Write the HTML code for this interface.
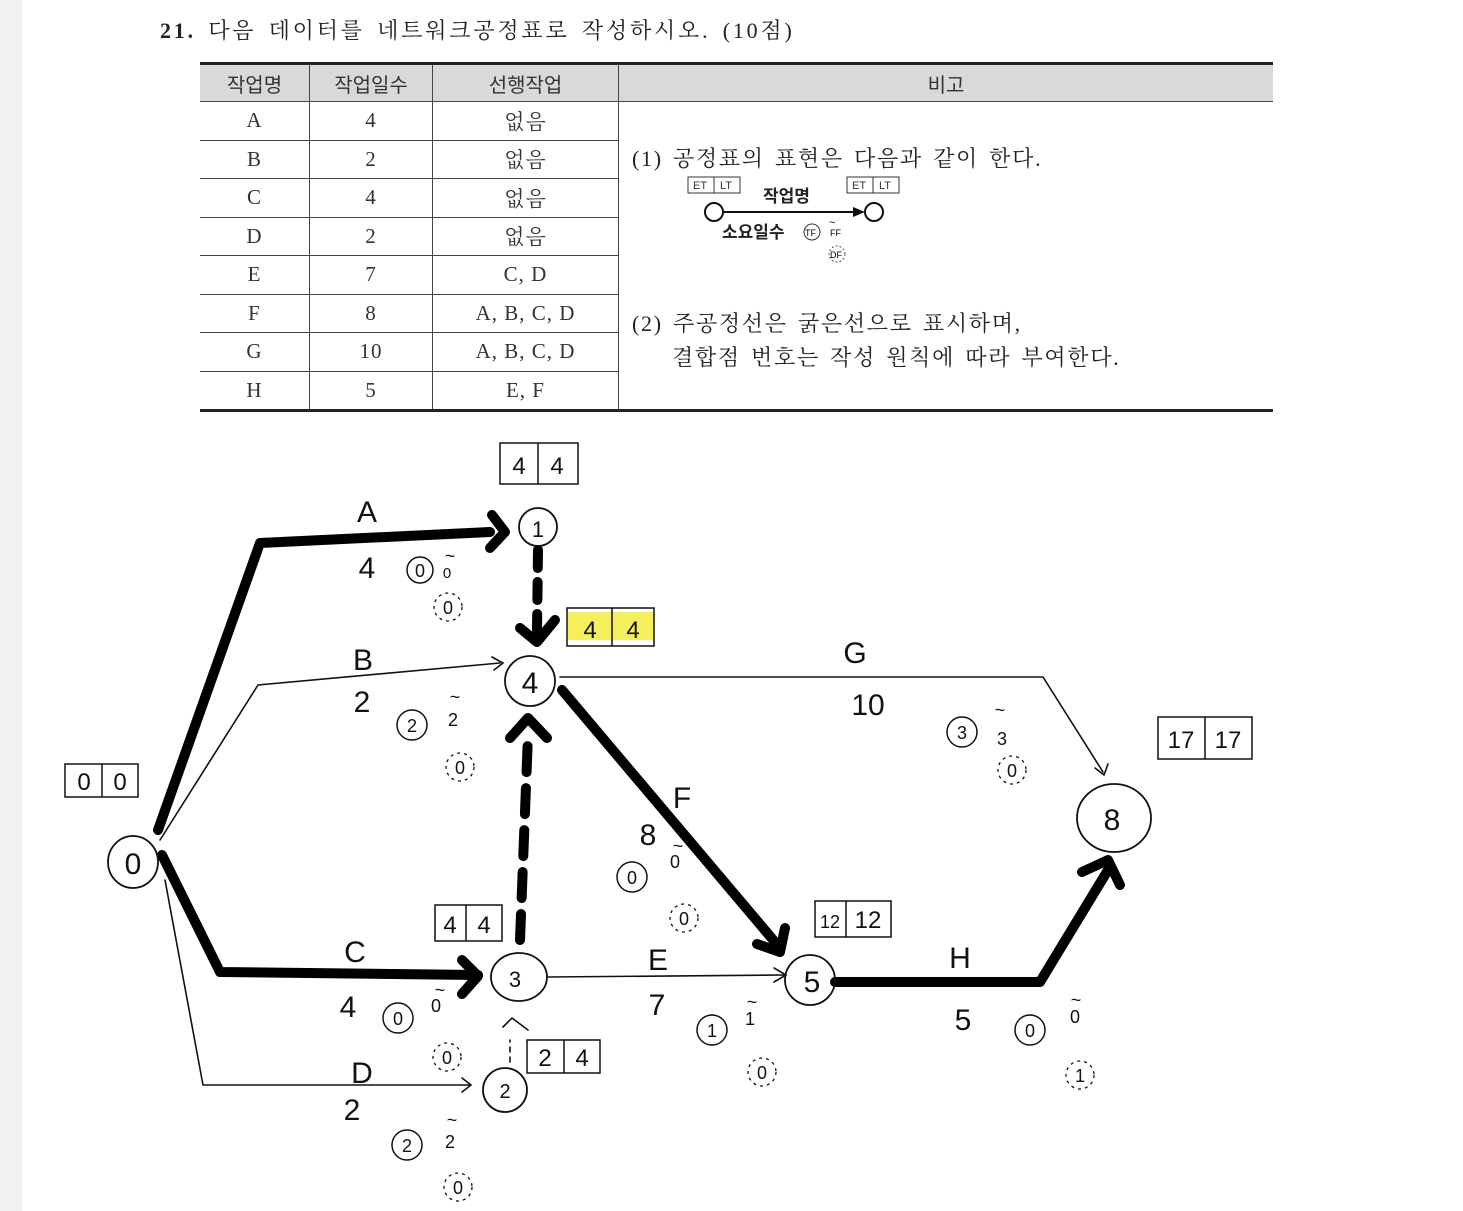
<!DOCTYPE html>
<html><head><meta charset="utf-8"><style>
html,body{margin:0;padding:0;background:#fff;}
body{width:1463px;height:1211px;position:relative;overflow:hidden;font-family:"Liberation Serif","Noto Serif CJK SC","Noto Sans CJK KR",serif;}
.strip{position:absolute;left:0;top:0;width:22px;height:1211px;background:#f2f2f2;}
.t{position:absolute;white-space:nowrap;color:#222;}
table{position:absolute;left:200px;top:62px;border-collapse:collapse;font-size:21px;color:#333;}
td,th{border:1px solid #444;text-align:center;padding:0;height:37.5px;font-weight:normal;}
td{letter-spacing:1px;}
th{background:#d9d9d9;height:36px;font-family:"Liberation Sans","Noto Sans CJK KR",sans-serif;font-size:20px;}
tr:first-child th{border-top:3px solid #222;}
tr:last-child td,td.big{border-bottom:3px solid #222;}
td:first-child,th:first-child{border-left:none;}
td:last-child,th:last-child{border-right:none;}
</style></head><body>
<div class="strip"></div>
<div class="t" style="left:160px;top:14px;font-size:22px;letter-spacing:2.8px;word-spacing:4px;"><b>21.</b> 다음 데이터를 네트워크공정표로 작성하시오. (10점)</div>
<table>
<tr><th style="width:109px">작업명</th><th style="width:122px">작업일수</th><th style="width:185px">선행작업</th><th style="width:654px">비고</th></tr>
<tr><td>A</td><td>4</td><td>없음</td><td rowspan="8" class="big"></td></tr>
<tr><td>B</td><td>2</td><td>없음</td></tr>
<tr><td>C</td><td>4</td><td>없음</td></tr>
<tr><td>D</td><td>2</td><td>없음</td></tr>
<tr><td>E</td><td>7</td><td>C, D</td></tr>
<tr><td>F</td><td>8</td><td>A, B, C, D</td></tr>
<tr><td>G</td><td>10</td><td>A, B, C, D</td></tr>
<tr><td>H</td><td>5</td><td>E, F</td></tr>
</table>
<div class="t" style="left:632px;top:142px;font-size:22px;letter-spacing:1.7px;word-spacing:3px;">(1) 공정표의 표현은 다음과 같이 한다.</div>
<div class="t" style="left:632px;top:307px;font-size:22px;letter-spacing:1.7px;word-spacing:3px;">(2) 주공정선은 굵은선으로 표시하며,</div>
<div class="t" style="left:672px;top:341px;font-size:22px;letter-spacing:1.7px;word-spacing:3px;">결합점 번호는 작성 원칙에 따라 부여한다.</div>

<svg width="1463" height="1211" style="position:absolute;left:0;top:0" font-family="Liberation Sans, Noto Sans CJK KR, sans-serif">
<g fill="none" stroke="#333" stroke-width="1">
<rect x="688" y="177" width="52" height="16"/><line x1="714" y1="177" x2="714" y2="193"/>
<rect x="847" y="177" width="52" height="16"/><line x1="873" y1="177" x2="873" y2="193"/>
</g>
<g font-size="11" fill="#333"><text x="693" y="189">ET</text><text x="720" y="189">LT</text><text x="852" y="189">ET</text><text x="879" y="189">LT</text></g>
<text x="763" y="202" font-size="17" font-weight="bold" fill="#222">작업명</text>
<circle cx="714" cy="212" r="9" fill="none" stroke="#111" stroke-width="2"/>
<circle cx="874" cy="212" r="9" fill="none" stroke="#111" stroke-width="2"/>
<line x1="723" y1="212" x2="855" y2="212" stroke="#111" stroke-width="2"/>
<polygon points="865,212 853,207 853,217" fill="#111"/>
<text x="722" y="238" font-size="17" font-weight="bold" fill="#222">소요일수</text>
<circle cx="812" cy="232" r="8" fill="none" stroke="#333"/><text x="805" y="236" font-size="9">TF</text>
<text x="830" y="236" font-size="9">FF</text><text x="829" y="226" font-size="11">~</text>
<circle cx="837" cy="254" r="8" fill="none" stroke="#555" stroke-dasharray="2,2"/><text x="830" y="258" font-size="9">DF</text>

<g fill="none" stroke="#111" stroke-width="1.6" stroke-linecap="round">
<path d="M160,840 L258,685 L500,663"/><path d="M492,657 L503,663 L494,670"/>
<path d="M560,677 L1043,677 L1103,772"/><path d="M1095,768 L1104,775 L1108,764"/>
<path d="M165,880 L203,1085 L470,1085"/><path d="M462,1078 L471,1085 L462,1092"/>
<path d="M548,977 L785,975"/><path d="M774,968 L786,975 L774,982"/>
<path d="M510,1062 L510,1040" stroke-dasharray="5,5"/><path d="M503,1027 L512,1018 L528,1030"/>
</g>
<g fill="none" stroke="#000" stroke-width="10" stroke-linecap="round" stroke-linejoin="round">
<path d="M158,830 L260,543 L490,532"/><path d="M492,515 L505,532 L490,548"/>
<path d="M562,690 L780,948"/><path d="M757,944 L780,952 L785,928"/>
<path d="M162,855 L220,972 L478,975"/><path d="M462,960 L478,976 L462,994"/>
<path d="M835,982 L1040,982 L1108,870"/><path d="M1082,872 L1108,860 L1120,885"/>
<path d="M538,550 L537,630" stroke-dasharray="18,14"/><path d="M520,628 L537,642 L555,620"/>
<path d="M520,940 L528,735" stroke-dasharray="26,16"/><path d="M510,738 L528,718 L547,738"/>
</g>
<g fill="none" stroke="#111" stroke-width="1.8">
<ellipse cx="133" cy="862" rx="25" ry="26"/>
<circle cx="538" cy="527" r="19"/>
<circle cx="530" cy="681" r="25"/>
<ellipse cx="519" cy="977" rx="28" ry="24"/>
<circle cx="505" cy="1090" r="22"/>
<circle cx="810" cy="980" r="25"/>
<ellipse cx="1114" cy="818" rx="37" ry="34"/>
</g>
<g font-size="30" fill="#111" text-anchor="middle">
<text x="133" y="874">0</text><text x="538" y="537" font-size="22">1</text><text x="530" y="693">4</text>
<text x="515" y="987" font-size="22">3</text><text x="505" y="1098" font-size="20">2</text>
<text x="812" y="992">5</text><text x="1112" y="830">8</text>
</g>
<rect x="568" y="612" width="86" height="28" fill="#f4ef5a"/>
<g fill="none" stroke="#111" stroke-width="1.5">
<rect x="65" y="764" width="73" height="33"/><line x1="102" y1="764" x2="102" y2="797"/>
<rect x="500" y="443" width="78" height="41"/><line x1="538" y1="443" x2="538" y2="484"/>
<rect x="567" y="608" width="87" height="38"/><line x1="612" y1="608" x2="612" y2="646"/>
<rect x="1158" y="717" width="94" height="42"/><line x1="1205" y1="717" x2="1205" y2="759"/>
<rect x="815" y="901" width="76" height="36"/><line x1="846" y1="901" x2="846" y2="937"/>
<rect x="435" y="905" width="67" height="36"/><line x1="466" y1="905" x2="466" y2="941"/>
<rect x="527" y="1040" width="73" height="33"/><line x1="564" y1="1040" x2="564" y2="1073"/>
</g>
<g font-size="24" fill="#111" text-anchor="middle">
<text x="84" y="790">0</text><text x="120" y="790">0</text>
<text x="519" y="474">4</text><text x="557" y="474">4</text>
<text x="590" y="638">4</text><text x="633" y="638">4</text>
<text x="1181" y="748">17</text><text x="1228" y="748">17</text>
<text x="830" y="928" font-size="18">12</text><text x="868" y="928">12</text>
<text x="450" y="933">4</text><text x="484" y="933">4</text>
<text x="545" y="1066">2</text><text x="582" y="1066">4</text>
</g>
<g font-size="30" fill="#111" text-anchor="middle">
<text x="367" y="522">A</text><text x="367" y="578">4</text>
<text x="363" y="670">B</text><text x="362" y="712">2</text>
<text x="855" y="663">G</text><text x="868" y="715">10</text>
<text x="682" y="808">F</text><text x="648" y="845">8</text>
<text x="355" y="962">C</text><text x="348" y="1017">4</text>
<text x="362" y="1083">D</text><text x="352" y="1120">2</text>
<text x="658" y="970">E</text><text x="657" y="1015">7</text>
<text x="960" y="968">H</text><text x="963" y="1030">5</text>
</g>
<g fill="none" stroke="#111" stroke-width="1.5">
<circle cx="420" cy="570" r="13"/><circle cx="412" cy="725" r="15"/><circle cx="962" cy="732" r="15"/>
<circle cx="632" cy="877" r="15"/><circle cx="398" cy="1018" r="15"/><circle cx="407" cy="1145" r="15"/>
<circle cx="712" cy="1030" r="15"/><circle cx="1030" cy="1030" r="15"/>
</g>
<g fill="none" stroke="#111" stroke-width="1.3" stroke-dasharray="3,4">
<circle cx="448" cy="607" r="14"/><circle cx="460" cy="767" r="14"/><circle cx="1012" cy="770" r="14"/>
<circle cx="684" cy="918" r="14"/><circle cx="447" cy="1057" r="14"/><circle cx="458" cy="1187" r="14"/>
<circle cx="762" cy="1072" r="14"/><circle cx="1080" cy="1075" r="14"/>
</g>
<g font-size="18" fill="#111" text-anchor="middle">
<text x="420" y="577">0</text><text x="448" y="614">0</text><text x="447" y="578" font-size="15">0</text><text x="450" y="562">~</text>
<text x="412" y="732">2</text><text x="460" y="774">0</text><text x="453" y="726">2</text><text x="455" y="703">~</text>
<text x="962" y="739">3</text><text x="1012" y="777">0</text><text x="1002" y="745">3</text><text x="1000" y="716">~</text>
<text x="632" y="884">0</text><text x="684" y="925">0</text><text x="675" y="868">0</text><text x="678" y="852">~</text>
<text x="398" y="1025">0</text><text x="447" y="1064">0</text><text x="436" y="1012">0</text><text x="440" y="996">~</text>
<text x="407" y="1152">2</text><text x="458" y="1194">0</text><text x="450" y="1148">2</text><text x="452" y="1126">~</text>
<text x="712" y="1037">1</text><text x="762" y="1079">0</text><text x="750" y="1025">1</text><text x="752" y="1008">~</text>
<text x="1030" y="1037">0</text><text x="1080" y="1082">1</text><text x="1075" y="1023">0</text><text x="1076" y="1006">~</text>
</g>
</svg>
</body></html>
